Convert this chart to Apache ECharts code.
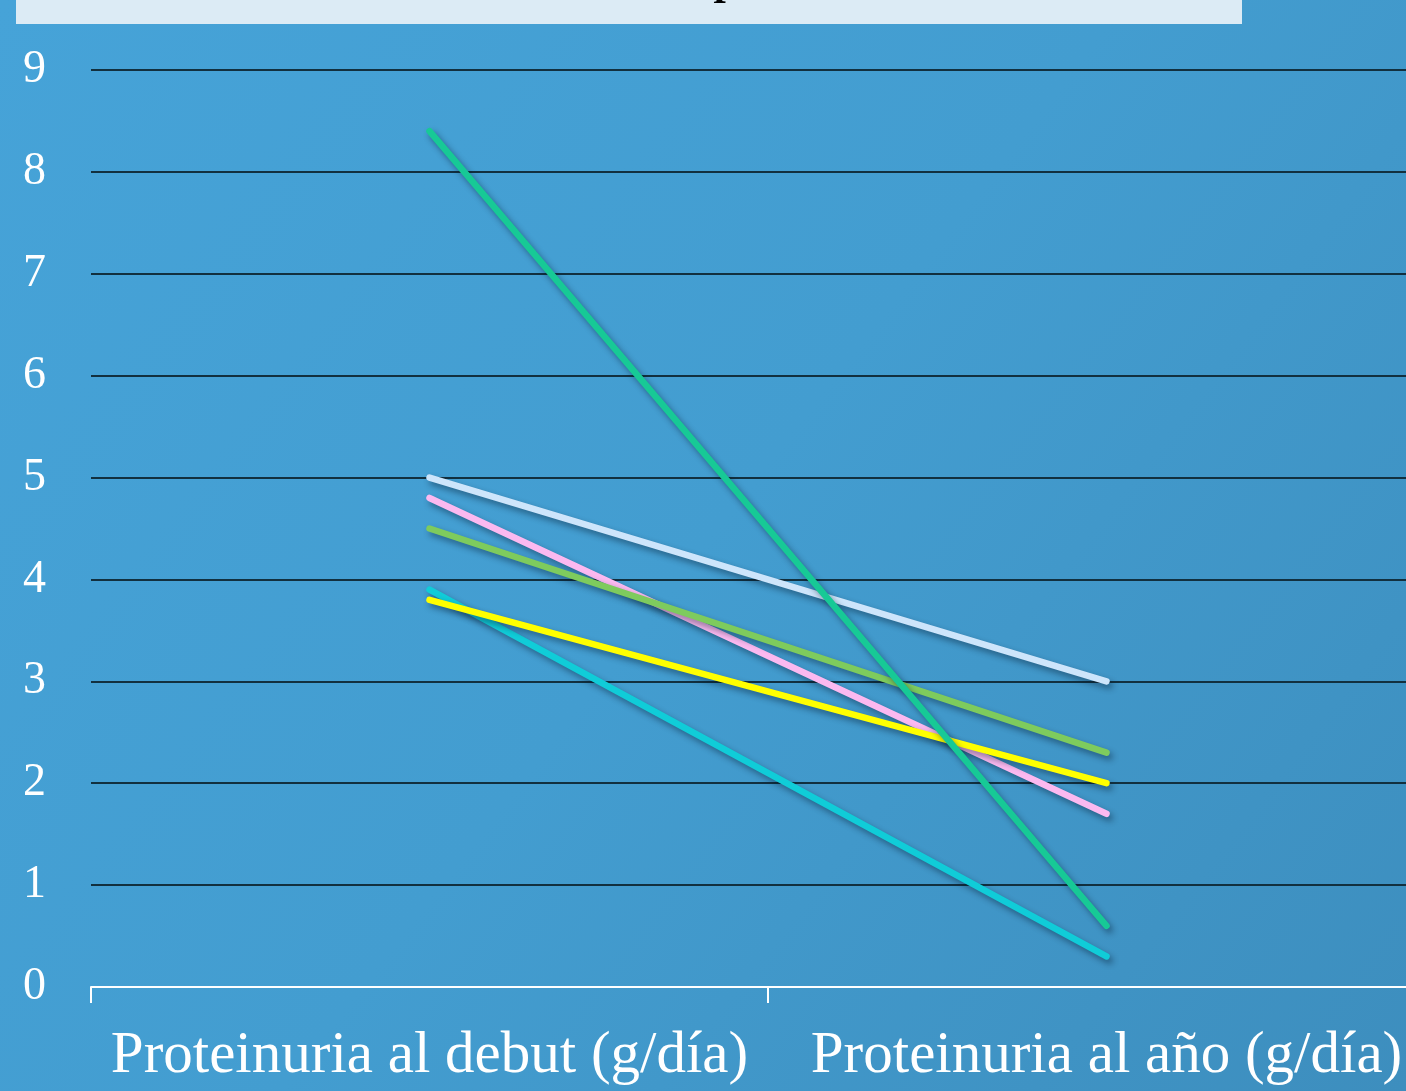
<!DOCTYPE html>
<html>
<head>
<meta charset="utf-8">
<script src="https://cdn.jsdelivr.net/npm/echarts@6/dist/echarts.min.js"></script>
<style>
  html, body { margin: 0; padding: 0; }
  #chart { width: 1406px; height: 1091px; }
</style>
</head>
<body>
<div id="chart"></div>
<script>
// Proteinuria (g/día) at onset and after one year, one line per patient
const categories = ['Proteinuria al debut (g/día)', 'Proteinuria al año (g/día)'];
const yTicks = [0, 1, 2, 3, 4, 5, 6, 7, 8, 9];

const patientA = [5.0, 3.0];   // light blue
const patientB = [4.8, 1.7];   // pink
const patientC = [4.5, 2.3];   // light green
const patientD = [3.9, 0.3];   // cyan
const patientE = [3.8, 2.0];   // yellow
const patientF = [8.4, 0.6];   // teal green

const seriesList = [
  { name: 'A', data: patientA, color: '#cde5fb' },
  { name: 'B', data: patientB, color: '#fbb9f0' },
  { name: 'C', data: patientC, color: '#7ecb5d' },
  { name: 'D', data: patientD, color: '#10ccd8' },
  { name: 'E', data: patientE, color: '#ffff00' },
  { name: 'F', data: patientF, color: '#17c996' }
];

const chart = echarts.init(document.getElementById('chart'), null, { renderer: 'canvas' });

chart.setOption({
  animation: false,
  backgroundColor: {
    type: 'linear', x: 0, y: 0, x2: 1, y2: 1,
    colorStops: [
      { offset: 0, color: '#46a3d8' },
      { offset: 0.5, color: '#439dd0' },
      { offset: 1, color: '#3d8ebe' }
    ]
  },
  graphic: [
    {
      type: 'rect',
      shape: { x: 16, y: 0, width: 1226, height: 24 },
      style: { fill: '#dcebf5' },
      z: 10
    },
    {
      type: 'text',
      x: 717, y: -39,
      style: {
        text: 'p',
        font: 'italic bold 44px "Liberation Serif"',
        fill: '#000000'
      },
      z: 11
    }
  ],
  grid: {
    left: 91, top: 70, width: 1354, bottom: 104,
    containLabel: false,
    outerBoundsMode: 'none'
  },
  xAxis: {
    type: 'category',
    data: categories,
    boundaryGap: true,
    axisLine: { show: true, lineStyle: { color: '#ffffff', width: 2 } },
    axisTick: { show: true, length: 16, lineStyle: { color: '#ffffff', width: 2 } },
    axisLabel: {
      color: '#ffffff',
      fontFamily: 'Liberation Serif',
      fontSize: 59,
      margin: 40,
      interval: 0,
      hideOverlap: false
    },
    splitLine: { show: false }
  },
  yAxis: {
    type: 'value',
    min: 0, max: 9, interval: 1,
    axisLine: { show: false },
    axisTick: { show: false },
    axisLabel: {
      color: '#ffffff',
      fontFamily: 'Liberation Serif',
      fontSize: 46,
      margin: 45,
      formatter: v => (yTicks.includes(v) ? String(v) : '')
    },
    splitLine: { show: true, lineStyle: { color: '#12303f', width: 2 } }
  },
  series: seriesList.map(s => ({
    name: s.name,
    type: 'line',
    data: s.data,
    symbol: 'none',
    lineStyle: {
      color: s.color,
      width: 6.5,
      cap: 'round',
      shadowColor: 'rgba(0, 20, 40, 0.45)',
      shadowBlur: 6,
      shadowOffsetX: 3,
      shadowOffsetY: 4
    },
    z: 3
  }))
});
</script>
</body>
</html>
